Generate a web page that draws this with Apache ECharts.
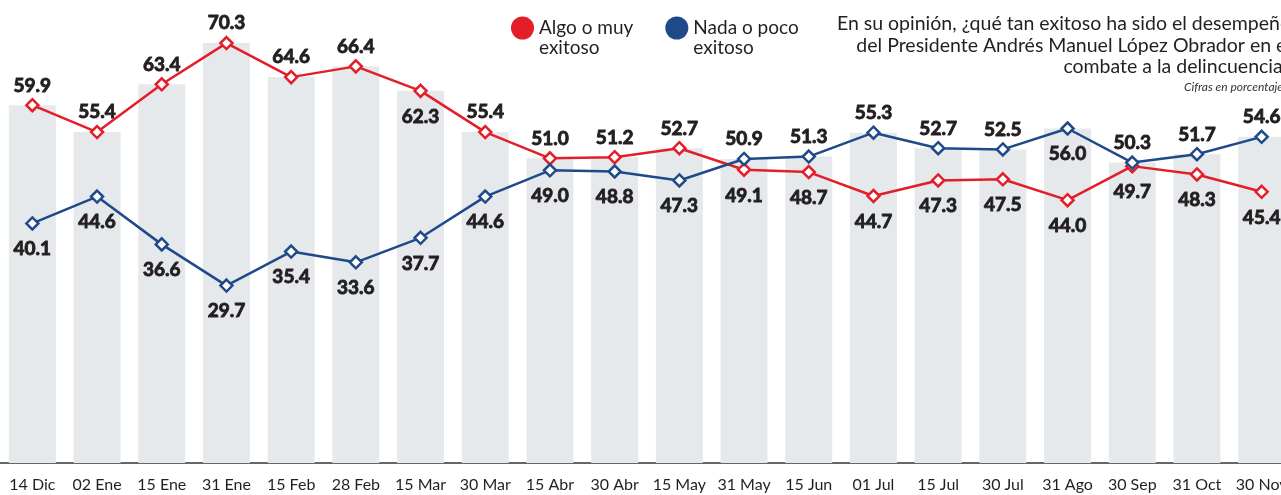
<!DOCTYPE html>
<html>
<head>
<meta charset="utf-8">
<script src="https://cdn.jsdelivr.net/npm/echarts@6/dist/echarts.min.js"></script>
<style>
  html, body { margin: 0; padding: 0; background: #fff; }
  #chart { width: 1281px; height: 495px; }
</style>
</head>
<body>
<div id="chart"></div>
<script>
const fechas = ["14 Dic", "02 Ene", "15 Ene", "31 Ene", "15 Feb", "28 Feb", "15 Mar", "30 Mar", "15 Abr", "30 Abr",
  "15 May", "31 May", "15 Jun", "01 Jul", "15 Jul", "30 Jul", "31 Ago", "30 Sep", "31 Oct", "30 Nov"];
const exitoso = [59.9, 55.4, 63.4, 70.3, 64.6, 66.4, 62.3, 55.4, 51.0, 51.2,
  52.7, 49.1, 48.7, 44.7, 47.3, 47.5, 44.0, 49.7, 48.3, 45.4];
const noExitoso = [40.1, 44.6, 36.6, 29.7, 35.4, 33.6, 37.7, 44.6, 49.0, 48.8,
  47.3, 50.9, 51.3, 55.3, 52.7, 52.5, 56.0, 50.3, 51.7, 54.6];
const barras = [59.9, 55.4, 63.4, 70.3, 64.6, 66.4, 62.3, 55.4, 51.0, 51.2,
  52.7, 50.9, 51.3, 55.3, 52.7, 52.5, 56.0, 50.3, 51.7, 54.6];

// labels that sit under the point even though the value is the higher one
const rojoAbajo = [6];
const azulAbajo = [16];

const ROJO = "#e31e28";
const AZUL = "#1f4a89";
const TEXTO = "#231f20";
const FUENTE = "Lato, 'Noto Sans', sans-serif";

function puntos(vals, otros, abajo) {
  return vals.map(function (v, i) {
    const arriba = v >= otros[i] && abajo.indexOf(i) < 0;
    return {
      value: v,
      label: { position: arriba ? "top" : "bottom", distance: arriba ? 3 : 9 },
    };
  });
}

function serieLinea(nombre, color, data) {
  return {
    name: nombre,
    type: "line",
    data: data,
    z: 3,
    symbol: "diamond",
    symbolSize: 12,
    lineStyle: { color: color, width: 2.5 },
    itemStyle: { color: "#fff", borderColor: color, borderWidth: 2.5 },
    label: {
      show: true,
      color: TEXTO,
      fontFamily: FUENTE,
      fontWeight: "bold",
      fontSize: 19,
      textBorderColor: TEXTO,
      textBorderWidth: 0.9,
      formatter: function (p) { return p.value.toFixed(1); },
    },
    emphasis: { disabled: true },
  };
}

const myChart = echarts.init(document.getElementById("chart"));
myChart.setOption({
  animation: false,
  backgroundColor: "#fff",
  grid: { left: 0, width: 1294, top: 15, bottom: 32, outerBoundsMode: "none" },
  legend: {
    left: 506,
    top: -7,
    itemWidth: 23,
    itemHeight: 23,
    itemGap: 32,
    icon: "circle",
    selectedMode: false,
    data: [
      { name: "Algo o muy\nexitoso", itemStyle: { color: ROJO, borderWidth: 0 } },
      { name: "Nada o poco\nexitoso", itemStyle: { color: AZUL, borderWidth: 0 } },
    ],
    // blank first line so the dot lines up with the first line of text
    formatter: function (name) { return "\n" + name; },
    textStyle: {
      color: TEXTO,
      fontFamily: FUENTE,
      fontSize: 19,
      lineHeight: 20,
    },
  },
  graphic: [
    {
      type: "text",
      x: 1291,
      y: 13,
      style: {
        text: "En su opinión, ¿qué tan exitoso ha sido el desempeño\ndel Presidente Andrés Manuel López Obrador en el\ncombate a la delincuencia?",
        align: "right",
        verticalAlign: "top",
        font: "19.5px " + FUENTE,
        lineHeight: 21.5,
        fill: TEXTO,
      },
    },
    {
      type: "text",
      x: 1283,
      y: 87,
      style: {
        text: "Cifras en porcentaje",
        align: "right",
        verticalAlign: "middle",
        font: "italic 12px " + FUENTE,
        fill: "#333",
      },
    },
    {
      type: "line",
      shape: { x1: 11, y1: 447, x2: 11, y2: 463 },
      style: { stroke: "#333", lineWidth: 1.5 },
    },
  ],
  xAxis: {
    type: "category",
    data: fechas,
    axisLine: { lineStyle: { color: "#333", width: 1.5 } },
    axisTick: { show: false },
    axisLabel: {
      color: TEXTO,
      fontFamily: FUENTE,
      fontSize: 16,
      margin: 14,
      interval: 0,
    },
  },
  yAxis: {
    type: "value",
    min: 0,
    max: 75,
    show: false,
  },
  series: [
    {
      name: "barras",
      type: "bar",
      data: barras,
      barWidth: 47,
      z: 1,
      silent: true,
      itemStyle: { color: "#e6e9ec" },
    },
    serieLinea("Algo o muy\nexitoso", ROJO, puntos(exitoso, noExitoso, rojoAbajo)),
    serieLinea("Nada o poco\nexitoso", AZUL, puntos(noExitoso, exitoso, azulAbajo)),
  ],
});
</script>
</body>
</html>
